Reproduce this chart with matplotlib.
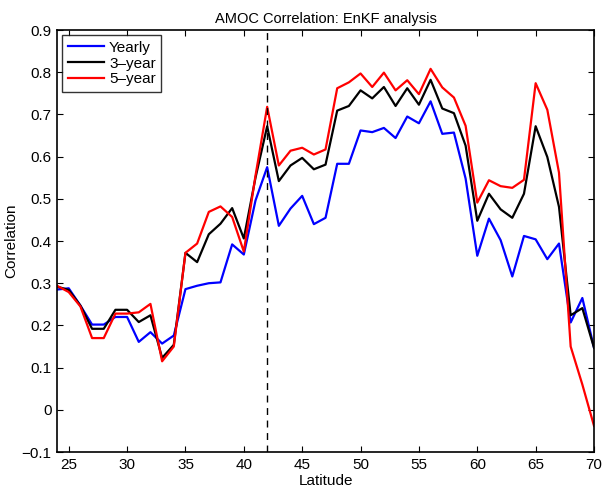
import numpy as np
import matplotlib.pyplot as plt

plt.rcParams['font.family'] = ['Liberation Sans', 'DejaVu Sans']

lat = np.arange(24, 71)

yearly = [0.285, 0.288, 0.247, 0.202, 0.202, 0.22, 0.22, 0.161, 0.184, 0.157,
          0.176, 0.286, 0.294, 0.30, 0.302, 0.392, 0.368, 0.496, 0.575, 0.436,
          0.477, 0.507, 0.44, 0.455, 0.583, 0.583, 0.662, 0.658, 0.668, 0.644,
          0.695, 0.679, 0.731, 0.654, 0.657, 0.548, 0.365, 0.453, 0.402, 0.316,
          0.412, 0.404, 0.357, 0.394, 0.207, 0.265, 0.147]

three_year = [0.292, 0.284, 0.247, 0.192, 0.192, 0.237, 0.237, 0.208, 0.224, 0.123,
              0.154, 0.372, 0.35, 0.416, 0.441, 0.478, 0.406, 0.55, 0.672, 0.542,
              0.579, 0.597, 0.57, 0.581, 0.709, 0.72, 0.757, 0.738, 0.765, 0.72,
              0.762, 0.723, 0.782, 0.714, 0.703, 0.626, 0.448, 0.512, 0.475, 0.455,
              0.512, 0.672, 0.599, 0.481, 0.224, 0.241, 0.147]

five_year = [0.294, 0.279, 0.245, 0.170, 0.170, 0.228, 0.228, 0.231, 0.251, 0.115,
             0.150, 0.372, 0.394, 0.469, 0.482, 0.457, 0.375, 0.555, 0.718, 0.579,
             0.614, 0.621, 0.605, 0.617, 0.762, 0.776, 0.797, 0.765, 0.799, 0.757,
             0.781, 0.748, 0.808, 0.764, 0.740, 0.673, 0.491, 0.544, 0.530, 0.526,
             0.545, 0.774, 0.711, 0.562, 0.150, 0.060, -0.038]

fig = plt.figure(figsize=(6.07, 4.97), dpi=100)
ax = fig.add_axes([0.094, 0.0905, 0.8846, 0.8491])

ax.plot(lat, yearly, color='#0000ff', lw=1.6, label='Yearly')
ax.plot(lat, three_year, color='black', lw=1.6, label='3\u2013year')
ax.plot(lat, five_year, color='#ff0000', lw=1.6, label='5\u2013year')
ax.axvline(42, color='black', lw=1, linestyle=(0, (5, 4)))

ax.set_xlim(24, 70)
ax.set_ylim(-0.1, 0.9)
ax.set_xticks(np.arange(25, 71, 5))
ax.set_yticks(np.arange(-0.1, 0.91, 0.1))
ax.set_yticklabels(['\u22120.1', '0', '0.1', '0.2', '0.3', '0.4', '0.5', '0.6', '0.7', '0.8', '0.9'])
ax.tick_params(direction='in', top=True, right=True, labelsize=11, length=4, pad=4)
for s in ax.spines.values():
    s.set_linewidth(1.2)

ax.set_title('AMOC Correlation: EnKF analysis', fontsize=10.5, pad=5)
ax.set_xlabel('Latitude', fontsize=11, labelpad=2)
ax.set_ylabel('Correlation', fontsize=11, labelpad=2)

leg = ax.legend(loc='upper left', fontsize=11, frameon=True, fancybox=False,
                edgecolor='black', borderaxespad=0.35, handlelength=2.4,
                borderpad=0.35, labelspacing=0.12, handletextpad=0.3)
leg.get_frame().set_linewidth(1.0)

fig.savefig('out.png', dpi=100)
